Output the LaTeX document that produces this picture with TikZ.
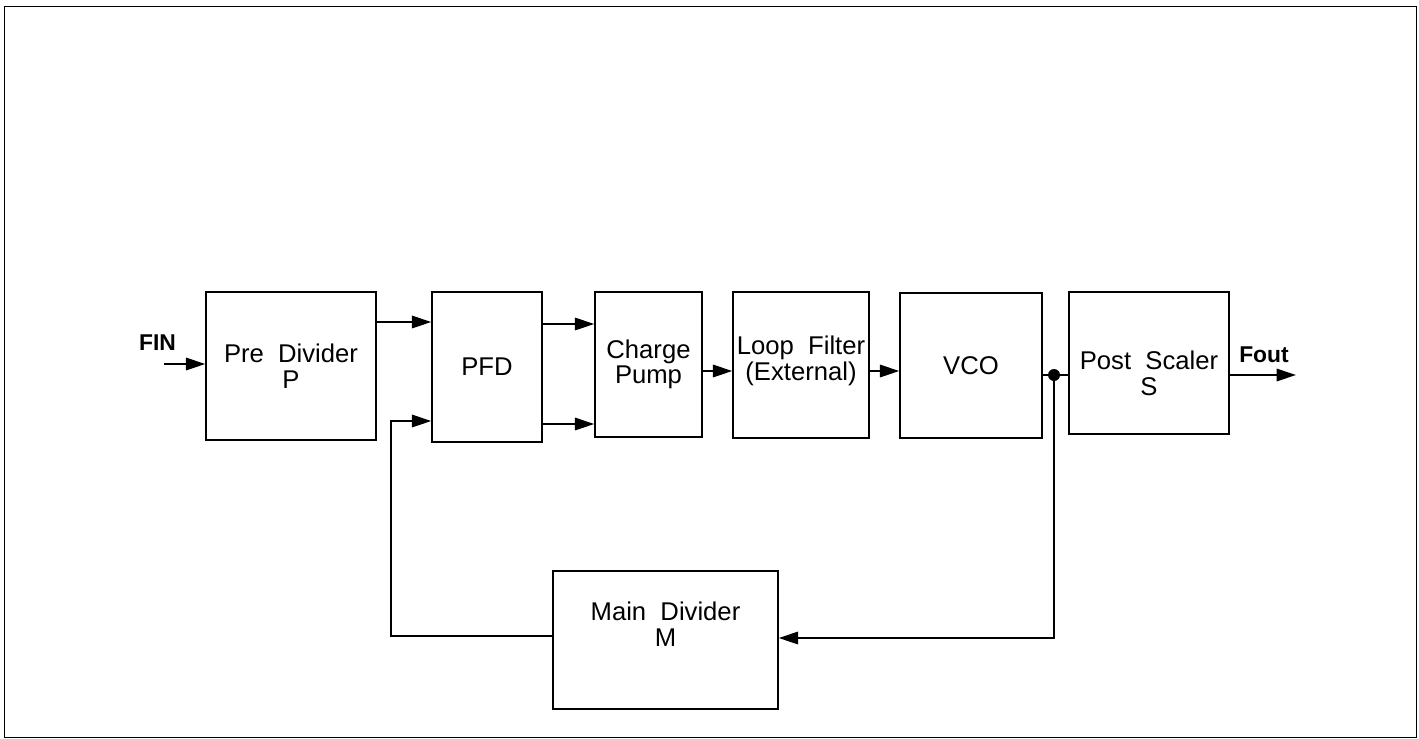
\documentclass[tikz,border=0pt]{standalone}
\usepackage{fontspec}
\setmainfont{Liberation Sans}
\usepackage{tikz}
\usetikzlibrary{positioning, arrows.meta}

\tikzset{
  block/.style={draw, rectangle, line width=0.8pt, inner sep=0pt, align=center,
    font=\fontsize{14.6}{14.6}\selectfont},
  blocktext/.style={inner sep=0pt, align=center, font=\fontsize{14.6}{14.6}\selectfont},
  sig/.style={-{Triangle[length=11pt, width=7pt]}, line width=1.3pt},
  wire/.style={line width=1.3pt},
  pin/.style={font=\fontsize{13}{13}\selectfont\bfseries}
}

\begin{document}
\begin{tikzpicture}[x=0.02cm, y=-0.02cm]
  \useasboundingbox (0,0) rectangle (1419,738);
  \draw[line width=1pt] (4.5,6.5) rectangle (1416.5,737.5);

  % forward path
  \node[block, minimum width=3.4cm, minimum height=2.96cm] (prediv) at (291,366) {Pre\ \ Divider\\P};
  \node[block, minimum width=2.2cm, minimum height=3.0cm] (pfd) at (487,367) {PFD};
  \node[block, minimum width=2.14cm, minimum height=2.9cm] (pump) at (648.5,364.5) {Charge\\Pump};
  \node[block, minimum width=2.72cm, minimum height=2.92cm] (filter) at (801,365) {};
  \node[blocktext] (filtertxt) at ([yshift=0.08cm]filter.center) {Loop\ \ Filter\\(External)};
  \node[block, minimum width=2.84cm, minimum height=2.9cm] (vco) at (971,365.5) {VCO};
  \node[block, minimum width=3.2cm, minimum height=2.84cm] (postsc) at (1149,363) {};
  \node[blocktext] (postsctxt) at ([yshift=-0.2cm]postsc.center) {Post\ \ Scaler\\S};
  \node[block, minimum width=4.5cm, minimum height=2.76cm] (maindiv) at (665.5,640) {};
  \node[blocktext] (maindivtxt) at ([yshift=0.32cm]maindiv.center) {Main\ \ Divider\\M};

  \node[pin] (finlbl) at (157.5,343) {FIN};
  \node[pin] (foutlbl) at (1264,355) {Fout};
  \coordinate (fin) at (164,364);
  \coordinate (fout) at (1296,375);
  \coordinate (tap) at (1054,375);

  \draw[sig] (fin) -- (prediv.west |- fin);
  \draw[sig] (prediv.east |- 0,322) -- (pfd.west |- 0,322);
  \draw[sig] (pfd.east |- 0,324) -- (pump.west |- 0,324);
  \draw[sig] (pfd.east |- 0,424) -- (pump.west |- 0,424);
  \draw[sig] (pump.east |- 0,371) -- (filter.west |- 0,371);
  \draw[sig] (filter.east |- 0,371) -- (vco.west |- 0,371);
  \draw[wire] (vco.east |- tap) -- (postsc.west |- tap);
  \fill (tap) circle (0.12cm);
  \draw[sig] (postsc.east |- fout) -- (fout);

  % feedback loop
  \draw[sig] (tap) |- (maindiv.east |- 0,638);
  \draw[sig] (maindiv.west |- 0,636) -| (391,421) -- (pfd.west |- 0,421);
\end{tikzpicture}
\end{document}
